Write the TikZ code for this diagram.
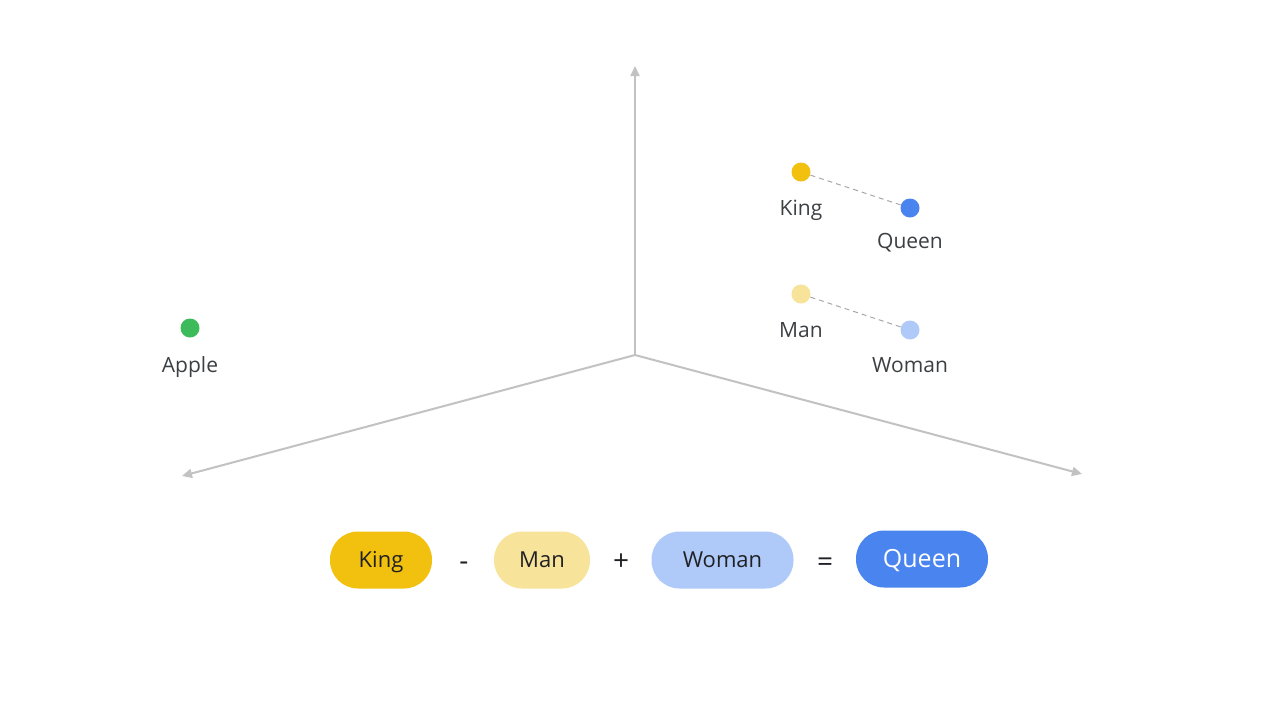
\documentclass[tikz,border=0pt]{standalone}
\usepackage{fontspec}
\setmainfont{Open Sans}
\usetikzlibrary{arrows.meta}
\definecolor{axisgray}{HTML}{C2C2C2}
\definecolor{txt}{HTML}{3C4043}
\definecolor{dark}{HTML}{202124}
\definecolor{gyellow}{HTML}{F2C10F}
\definecolor{lyellow}{HTML}{F8E39B}
\definecolor{gblue}{HTML}{4A84EE}
\definecolor{lblue}{HTML}{AFCAF8}
\definecolor{ggreen}{HTML}{3DBA5A}
\definecolor{dashgray}{HTML}{A8A8A8}
\begin{document}
\begin{tikzpicture}[x=0.5pt,y=-0.5pt,
  axis/.style={draw=axisgray,line width=1pt,-{Triangle[length=5pt,width=4.5pt]}},
  dot/.style={circle,inner sep=0pt,minimum size=9.5pt},
  lbl/.style={text=txt,font=\fontsize{10.5}{12}\selectfont,inner sep=0pt,anchor=base},
  pill/.style={rounded corners=14pt,minimum height=28.5pt,inner sep=0pt,text height=8pt,text depth=0.2pt,text=dark,font=\fontsize{11}{13}\selectfont},
  op/.style={text=dark,font=\fontsize{14}{16}\selectfont,inner sep=0pt,anchor=base},
  link/.style={draw=dashgray,line width=0.5pt,dash pattern=on 2.5pt off 2pt}]
\fill[white] (0,0) rectangle (1280,720);
\useasboundingbox (0,0) rectangle (1280,720);
% axes
\coordinate (O) at (635,355);
\coordinate (up) at (635,66);
\coordinate (left) at (182,476);
\coordinate (right) at (1082,474);
\draw[axis] (O) -- (up);
\draw[axis] (O) -- (left);
\draw[axis] (O) -- (right);
% points
\node[dot,fill=gyellow] (king) at (801,172) {};
\node[dot,fill=gblue] (queen) at (910,208) {};
\node[dot,fill=lyellow] (man) at (801,294) {};
\node[dot,fill=lblue] (woman) at (910,330) {};
\node[dot,fill=ggreen] (apple) at (190,328) {};
\draw[link] (king) -- (queen);
\draw[link] (man) -- (woman);
\node[lbl] (kingl) at (801,215) {King};
\node[lbl] (queenl) at (910,248) {Queen};
\node[lbl] (manl) at (801,337) {Man};
\node[lbl] (womanl) at (910,372) {Woman};
\node[lbl] (applel) at (190,372) {Apple};
% equation
\node[pill,fill=gyellow,minimum width=51pt] (pking) at (381,560) {King};
\node[op] (minus) at (464,570) {-};
\node[pill,fill=lyellow,minimum width=48pt] (pman) at (542,560) {Man};
\node[op] (plus) at (621,570) {+};
\node[pill,fill=lblue,minimum width=71pt] (pwoman) at (722.5,560) {Woman};
\node[op] (eq) at (825,571) {=};
\node[pill,fill=gblue,minimum width=66pt,text=white,text height=9pt,text depth=0.1pt,font=\fontsize{12.5}{14}\selectfont] (pqueen) at (922,559) {Queen};
\end{tikzpicture}
\end{document}
